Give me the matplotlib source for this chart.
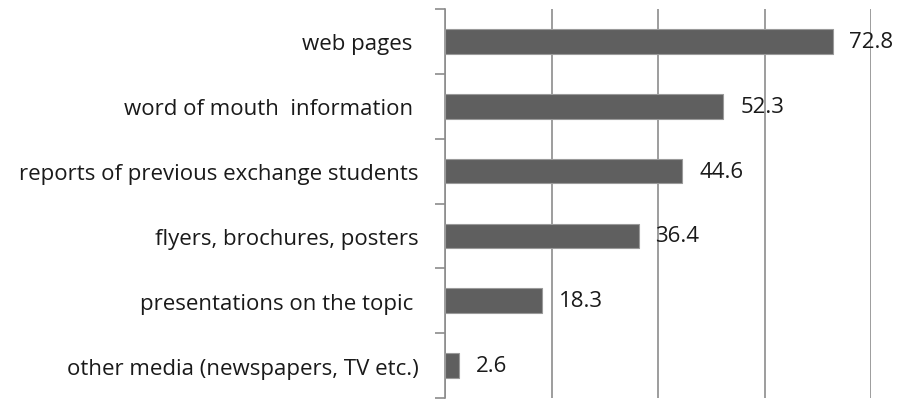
import matplotlib
matplotlib.use("Agg")
import matplotlib.pyplot as plt
from matplotlib.ticker import FixedLocator, MultipleLocator

categories = ["web pages ", "word of mouth  information ", "reports of previous exchange students",
              "flyers, brochures, posters", "presentations on the topic ", "other media (newspapers, TV etc.)"]
values = [72.8, 52.3, 44.6, 36.4, 18.3, 2.6]
value_labels = ["72.8", "52.3", "44.6", "36.4", "18.3", "2.6"]

plt.rcParams['font.family'] = ['Open Sans', 'DejaVu Sans']

fig = plt.figure(figsize=(8.97, 4.06), dpi=100)
ax = fig.add_axes([445/897, 1-399/406, (871-445)/897, (399-10)/406])

n = len(categories)
ypos = list(range(n))
ax.barh(ypos, values, height=0.38, color="#5f5f5f", edgecolor="#9a9a9a", linewidth=0.8, zorder=3)
ax.set_xlim(0, 80)
ax.set_ylim(n - 0.5, -0.5)
ax.xaxis.set_major_locator(MultipleLocator(20))
ax.grid(axis='x', color="#8c8c8c", linewidth=1.2, zorder=0)
ax.set_xticklabels([])
ax.tick_params(axis='x', length=0)

ax.set_yticks(ypos)
ax.set_yticklabels(categories, fontsize=16, color="#1a1a1a")
ax.tick_params(axis='y', which='major', length=0, pad=19)
ax.yaxis.set_minor_locator(FixedLocator([i - 0.5 for i in range(n + 1)]))
ax.tick_params(axis='y', which='minor', length=7, width=1.2, color="#8c8c8c")

for s in ['top', 'right', 'bottom']:
    ax.spines[s].set_visible(False)
ax.spines['left'].set_color("#8c8c8c")
ax.spines['left'].set_linewidth(1.2)

for y, v, t in zip(ypos, values, value_labels):
    ax.annotate(t, (v, y), xytext=(12, 0), textcoords='offset points',
                va='center', ha='left', fontsize=16, color="#1a1a1a")

fig.savefig("out.png", dpi=100)
